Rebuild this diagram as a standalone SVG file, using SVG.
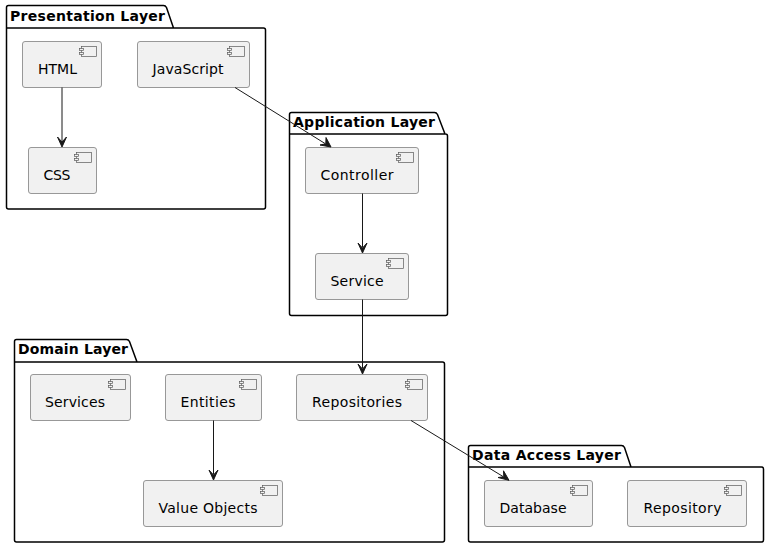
<svg xmlns="http://www.w3.org/2000/svg" width="769" height="548" viewBox="0 0 769 548">
<style>
.pkg{fill:none;stroke:#000;stroke-width:1.5}
.pt{font:bold 14px "DejaVu Sans",sans-serif;fill:#000}
.box{fill:#F1F1F1;stroke:#7f7f7f;stroke-width:.8}
.ic{fill:#F1F1F1;stroke:#5a5a5a;stroke-width:.7}
.lb{font:14px "DejaVu Sans",sans-serif;fill:#000}
.c{fill:none;stroke:#181818;stroke-width:1}
.h{fill:#181818;stroke:#181818;stroke-width:1}
</style>
<defs>
<g id="icon"><rect class="ic" x="-15" y="0" width="15" height="10"/><rect class="ic" x="-17" y="2" width="4" height="2"/><rect class="ic" x="-17" y="6" width="4" height="2"/></g>
</defs>
<rect width="769" height="548" fill="#fff"/>
<g id="pkg-presentation"><path class="pkg" d="M8.500 5.500H163.500Q165.500 5.500 166.500 7.500L173.500 28H263.500Q265.500 28 265.500 30V207Q265.500 209 263.500 209H8.500Q6.500 209 6.500 207V7.500Q6.500 5.500 8.500 5.500ZM6.500 28H173.500"/><text class="pt" x="10" y="21" textLength="155">Presentation Layer</text></g>
<g id="pkg-application"><path class="pkg" d="M291.500 112.500H434.500Q436.500 112.500 437.500 114.500L445 134H445.500Q447.500 134 447.500 136V313.500Q447.500 315.500 445.500 315.500H291.500Q289.500 315.500 289.500 313.500V114.500Q289.500 112.500 291.500 112.500ZM289.500 134H445"/><text class="pt" x="293" y="127" textLength="142">Application Layer</text></g>
<g id="pkg-domain"><path class="pkg" d="M16.500 339.500H126.500Q128.500 339.500 129.500 341.500L137 362H442.500Q444.500 362 444.500 364V540Q444.500 542 442.500 542H16.500Q14.500 542 14.500 540V341.500Q14.500 339.500 16.500 339.500ZM14.500 362H137"/><text class="pt" x="18" y="354" textLength="110">Domain Layer</text></g>
<g id="pkg-data"><path class="pkg" d="M470.500 445.500H621.500Q623.500 445.500 624.500 447.500L631 467H761.500Q763.500 467 763.500 469V540Q763.500 542 761.500 542H470.500Q468.500 542 468.500 540V447.500Q468.500 445.500 470.500 445.500ZM468.500 467H631"/><text class="pt" x="472" y="460" textLength="149">Data Access Layer</text></g>
<g id="html"><rect class="box" x="22.500" y="41.500" width="79" height="46" rx="2.500"/><use href="#icon" x="96.500" y="46.500"/><text class="lb" x="38" y="74" textLength="39">HTML</text></g>
<g id="javascript"><rect class="box" x="137.500" y="41.500" width="112" height="46" rx="2.500"/><use href="#icon" x="244.500" y="46.500"/><text class="lb" x="152.500" y="74" textLength="71">JavaScript</text></g>
<g id="css"><rect class="box" x="28.500" y="147.500" width="68" height="46" rx="2.500"/><use href="#icon" x="91.500" y="152.500"/><text class="lb" x="43.500" y="180" textLength="27">CSS</text></g>
<g id="controller"><rect class="box" x="305.500" y="147.500" width="113" height="46" rx="2.500"/><use href="#icon" x="413.500" y="152.500"/><text class="lb" x="320.500" y="180" textLength="73">Controller</text></g>
<g id="service"><rect class="box" x="315.500" y="253.500" width="93" height="46" rx="2.500"/><use href="#icon" x="403.500" y="258.500"/><text class="lb" x="330.500" y="286" textLength="53">Service</text></g>
<g id="services"><rect class="box" x="30.500" y="374.500" width="100" height="46" rx="2.500"/><use href="#icon" x="125.500" y="379.500"/><text class="lb" x="45" y="407" textLength="60">Services</text></g>
<g id="entities"><rect class="box" x="165.500" y="374.500" width="96" height="46" rx="2.500"/><use href="#icon" x="256.500" y="379.500"/><text class="lb" x="180.500" y="407" textLength="55">Entities</text></g>
<g id="repositories"><rect class="box" x="296.500" y="374.500" width="131" height="46" rx="2.500"/><use href="#icon" x="422.500" y="379.500"/><text class="lb" x="312" y="407" textLength="90">Repositories</text></g>
<g id="value-objects"><rect class="box" x="143.500" y="480.500" width="139" height="46" rx="2.500"/><use href="#icon" x="277.500" y="485.500"/><text class="lb" x="158.500" y="513" textLength="99">Value Objects</text></g>
<g id="database"><rect class="box" x="484.500" y="480.500" width="108" height="46" rx="2.500"/><use href="#icon" x="587.500" y="485.500"/><text class="lb" x="499.500" y="513" textLength="67">Database</text></g>
<g id="repository"><rect class="box" x="627.500" y="480.500" width="119" height="46" rx="2.500"/><use href="#icon" x="741.500" y="485.500"/><text class="lb" x="643.500" y="513" textLength="78">Repository</text></g>
<g id="connectors">
<path class="c" d="M62 87.500V141"/><polygon class="h" points="62,147 57.500,137 62,142 66.500,137"/>
<path class="c" d="M235 87.500L325 143.500"/><polygon class="h" points="331,147 320,145 325.800,143.800 326,137.500"/>
<path class="c" d="M362.500 193.500V247"/><polygon class="h" points="362.500,253 358,243 362.500,248 367,243"/>
<path class="c" d="M362.500 299.500V368"/><polygon class="h" points="362.500,374 358,364 362.500,369 367,364"/>
<path class="c" d="M213.500 420.500V474"/><polygon class="h" points="213.500,480 209,470 213.500,475 218,470"/>
<path class="c" d="M411 420.500L503 476.500"/><polygon class="h" points="509,480.300 498,477.500 503.800,476.800 503.500,470.800"/>
</g>
</svg>
